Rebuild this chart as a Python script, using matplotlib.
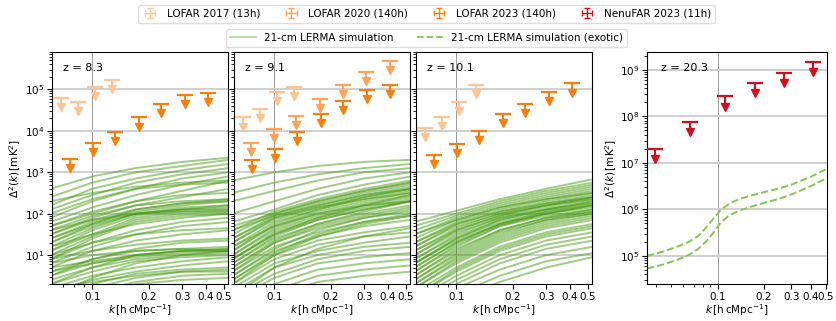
import numpy as np
import matplotlib
matplotlib.use('Agg')
import matplotlib.pyplot as plt
from matplotlib.lines import Line2D
from matplotlib.ticker import FixedLocator, NullFormatter, LogLocator

plt.rcParams['font.size'] = 7.5

# ---- upper limits (k in h/cMpc, Delta^2 in mK^2) ----
k_2017 = [0.068, 0.084, 0.103, 0.127]
k_2023 = [0.076, 0.101, 0.132, 0.176, 0.232, 0.309, 0.412]
k_2020 = [0.075, 0.100, 0.131, 0.175, 0.231, 0.307, 0.409]

lofar2017_z83 = [6.1e4, 4.9e4, 1.14e5, 1.67e5]
lofar2017_z91 = [2.1e4, 3.4e4, 8.8e4, 1.15e5]
lofar2017_z101 = [1.2e4, 2.2e4, 5.0e4, 1.3e5]
lofar2020_z91 = [5.2e3, 1.1e4, 2.3e4, 6.0e4, 1.3e5, 2.6e5, 4.8e5]
lofar2023_z83 = [2.1e3, 5.0e3, 9.6e3, 2.1e4, 4.4e4, 7.3e4, 8.4e4]
lofar2023_z91 = [2.0e3, 3.6e3, 9.3e3, 2.6e4, 5.2e4, 9.6e4, 1.3e5]
lofar2023_z101 = [2.6e3, 4.9e3, 1.0e4, 2.6e4, 4.5e4, 8.6e4, 1.4e5]

k_nenufar = [0.0396, 0.0667, 0.112, 0.175, 0.27, 0.413]
nenufar_z203 = [2.0e7, 7.7e7, 2.7e8, 5.2e8, 8.5e8, 1.46e9]

# ---- simulations: log10 Delta^2 at k_sim ----
k_sim = [0.06, 0.1, 0.17, 0.3, 0.53]
sim_z83 = [
    [2.6, 2.9, 3.1, 3.25, 3.35], [2.4, 2.75, 3.0, 3.15, 3.3],
    [2.2, 2.6, 2.85, 3.05, 3.2], [2.1, 2.45, 2.75, 2.95, 3.1],
    [1.9, 2.3, 2.6, 2.85, 3.0], [2.3, 2.5, 2.65, 2.75, 2.8],
    [1.8, 2.15, 2.45, 2.7, 2.9], [1.7, 2.0, 2.3, 2.55, 2.8],
    [1.6, 1.95, 2.2, 2.4, 2.6], [1.5, 1.85, 2.1, 2.25, 2.35],
    [1.4, 1.8, 2.05, 2.2, 2.3], [1.3, 1.7, 2.0, 2.15, 2.2],
    [1.2, 1.65, 2.0, 2.1, 2.15], [1.1, 1.5, 1.9, 2.05, 2.1],
    [1.0, 1.45, 1.85, 2.0, 2.05], [1.2, 1.5, 1.75, 1.9, 2.0],
    [1.5, 1.9, 2.2, 2.3, 2.35], [1.3, 1.75, 2.1, 2.25, 2.3],
    [0.9, 1.3, 1.6, 1.8, 1.9], [0.8, 1.2, 1.5, 1.7, 1.8],
    [1.0, 1.3, 1.5, 1.6, 1.65], [0.7, 1.1, 1.35, 1.5, 1.6],
    [0.9, 1.1, 1.25, 1.35, 1.4], [0.6, 0.9, 1.15, 1.3, 1.35],
    [0.7, 0.85, 1.0, 1.1, 1.15], [0.5, 0.8, 1.0, 1.1, 1.1],
    [0.6, 0.8, 0.95, 1.05, 1.1], [0.4, 0.7, 0.9, 1.0, 1.05],
    [0.3, 0.6, 0.85, 0.95, 1.0], [0.2, 0.5, 0.7, 0.85, 0.95],
    [0.1, 0.4, 0.6, 0.75, 0.85], [0.0, 0.3, 0.55, 0.65, 0.7],
    [-0.1, 0.2, 0.45, 0.6, 0.65], [0.2, 0.35, 0.5, 0.6, 0.6],
    [-0.2, 0.1, 0.35, 0.5, 0.55], [-0.3, 0.0, 0.3, 0.4, 0.45],
    [1.4, 1.75, 2.0, 2.1, 2.1], [1.1, 1.6, 1.95, 2.1, 2.2],
    [0.9, 1.4, 1.8, 1.95, 2.0], [1.6, 1.85, 2.0, 2.05, 2.05],
    [0.5, 0.9, 1.1, 1.15, 1.2], [0.8, 1.0, 1.1, 1.15, 1.1],
    [0.3, 0.7, 1.0, 1.1, 1.15], [1.7, 2.05, 2.3, 2.45, 2.5],
    [2.0, 2.35, 2.6, 2.7, 2.75], [0.0, 0.45, 0.8, 1.0, 1.1],
]
sim_z91 = [
    [2.8, 3.0, 3.15, 3.25, 3.3], [2.5, 2.75, 2.95, 3.1, 3.2],
    [2.3, 2.55, 2.8, 3.0, 3.1], [2.0, 2.3, 2.6, 2.85, 3.0],
    [1.8, 2.1, 2.45, 2.7, 2.9], [1.6, 2.05, 2.35, 2.6, 2.8],
    [1.5, 2.0, 2.3, 2.55, 2.75], [1.4, 1.95, 2.25, 2.5, 2.7],
    [1.3, 1.9, 2.2, 2.45, 2.65], [1.2, 1.8, 2.1, 2.35, 2.55],
    [1.1, 1.7, 2.05, 2.3, 2.5], [1.0, 1.6, 1.95, 2.2, 2.4],
    [0.9, 1.5, 1.85, 2.1, 2.3], [0.8, 1.4, 1.75, 2.0, 2.2],
    [0.7, 1.3, 1.65, 1.9, 2.05], [0.6, 1.2, 1.55, 1.8, 1.95],
    [0.5, 1.1, 1.45, 1.7, 1.85], [0.4, 1.0, 1.35, 1.55, 1.7],
    [0.3, 0.9, 1.25, 1.45, 1.55], [0.2, 0.8, 1.1, 1.3, 1.45],
    [0.1, 0.7, 1.0, 1.2, 1.3], [0.0, 0.55, 0.9, 1.1, 1.2],
    [-0.1, 0.45, 0.8, 0.95, 1.05], [-0.2, 0.3, 0.65, 0.8, 0.9],
    [-0.3, 0.15, 0.5, 0.65, 0.75], [-0.4, 0.0, 0.35, 0.5, 0.6],
    [1.6, 1.95, 2.2, 2.45, 2.6], [1.3, 1.85, 2.15, 2.4, 2.6],
    [1.0, 1.65, 2.0, 2.25, 2.45], [0.9, 1.55, 1.9, 2.15, 2.35],
    [1.2, 1.7, 2.0, 2.2, 2.3], [0.6, 1.3, 1.7, 1.95, 2.15],
    [1.1, 1.75, 2.1, 2.4, 2.6], [0.9, 1.5, 1.9, 2.2, 2.45],
    [0.7, 1.35, 1.75, 2.05, 2.3], [0.5, 1.15, 1.6, 1.9, 2.1],
    [1.4, 1.9, 2.15, 2.35, 2.5], [0.3, 1.0, 1.45, 1.75, 1.95],
    [0.8, 1.45, 1.85, 2.1, 2.3], [1.7, 2.0, 2.3, 2.55, 2.75],
    [0.0, 0.7, 1.15, 1.45, 1.65], [0.4, 1.05, 1.5, 1.8, 2.0],
]
sim_z101 = [
    [1.8, 2.07, 2.35, 2.6, 2.83], [1.7, 2.0, 2.3, 2.55, 2.75],
    [1.6, 1.95, 2.25, 2.5, 2.7], [1.5, 1.9, 2.2, 2.45, 2.65],
    [1.4, 1.85, 2.15, 2.4, 2.6], [1.3, 1.8, 2.1, 2.35, 2.55],
    [1.2, 1.75, 2.05, 2.3, 2.5], [1.1, 1.65, 2.0, 2.25, 2.45],
    [1.0, 1.6, 1.95, 2.2, 2.4], [0.9, 1.5, 1.9, 2.15, 2.35],
    [0.8, 1.4, 1.85, 2.1, 2.3], [0.7, 1.3, 1.75, 2.05, 2.25],
    [0.6, 1.2, 1.7, 2.0, 2.2], [0.5, 1.1, 1.6, 1.9, 2.1],
    [0.4, 1.0, 1.5, 1.85, 2.05], [0.3, 0.9, 1.4, 1.75, 1.95],
    [0.2, 0.8, 1.3, 1.65, 1.85], [0.1, 0.7, 1.2, 1.55, 1.75],
    [0.0, 0.6, 1.1, 1.45, 1.65], [-0.1, 0.5, 1.0, 1.35, 1.55],
    [-0.2, 0.4, 0.9, 1.25, 1.45], [-0.3, 0.3, 0.8, 1.15, 1.35],
    [-0.4, 0.2, 0.65, 1.0, 1.2], [-0.5, 0.05, 0.5, 0.85, 1.05],
    [-0.6, -0.1, 0.35, 0.7, 0.95], [1.2, 1.7, 2.0, 2.2, 2.35],
    [1.0, 1.55, 1.9, 2.1, 2.25], [0.8, 1.35, 1.75, 2.0, 2.15],
    [0.5, 1.15, 1.6, 1.9, 2.05], [0.3, 0.95, 1.45, 1.8, 2.0],
    [1.1, 1.6, 1.95, 2.2, 2.4], [0.9, 1.45, 1.85, 2.1, 2.3],
    [0.7, 1.3, 1.75, 2.0, 2.2], [0.6, 1.25, 1.7, 1.95, 2.1],
    [1.3, 1.75, 2.05, 2.25, 2.4], [0.4, 1.05, 1.55, 1.85, 2.0],
    [0.2, 0.85, 1.35, 1.7, 1.9], [1.5, 1.85, 2.15, 2.35, 2.5],
    [0.8, 1.4, 1.8, 2.05, 2.2], [0.0, 0.65, 1.15, 1.5, 1.7],
]

# exotic model at z = 20.3 (log10 Delta^2)
k_exotic = [0.035, 0.045, 0.055, 0.065, 0.075, 0.085, 0.095, 0.105, 0.12,
            0.14, 0.17, 0.2, 0.25, 0.3, 0.4, 0.5]
exotic_hi = [5.0, 5.1, 5.2, 5.3, 5.43, 5.62, 5.82, 5.99, 6.13, 6.23, 6.31, 6.37,
             6.45, 6.53, 6.7, 6.86]
exotic_lo = [4.73, 4.82, 4.92, 5.02, 5.15, 5.32, 5.52, 5.72, 5.88, 5.98, 6.07, 6.14,
             6.23, 6.32, 6.5, 6.66]

c2017 = '#fdc596'
c2020 = '#fca35c'
c2023 = '#f77f0c'
c_nenu = '#d01020'
c_sim = '#449a0e'
c_exo = '#86c553'


def upper_limits(ax, k, val, color):
    k = np.asarray(k)
    val = np.asarray(val)
    ax.vlines(k, val * 0.66, val, color=color, lw=1.5, zorder=4)
    ax.plot(k, val, ls='none', marker='_', ms=11, mew=1.6, color=color, zorder=4)
    ax.plot(k, val * 0.6, ls='none', marker='v', ms=5.5, color=color, zorder=4)


def style_axis(ax, xlim, ylim, xt):
    ax.set_xscale('log')
    ax.set_yscale('log')
    ax.set_xlim(*xlim)
    ax.set_ylim(*ylim)
    ax.xaxis.set_major_locator(FixedLocator(xt))
    ax.set_xticklabels([f'{t:g}' for t in xt])
    ax.xaxis.set_minor_locator(LogLocator(subs=np.arange(2, 10)))
    ax.xaxis.set_minor_formatter(NullFormatter())
    ax.yaxis.set_minor_locator(LogLocator(subs=np.arange(2, 10), numticks=20))
    ax.yaxis.set_minor_formatter(NullFormatter())
    ax.grid(axis='y', which='major', color='#cccccc', lw=1.3)
    ax.axvline(0.1, color='#999999', lw=0.7, zorder=0)
    ax.tick_params(axis='both', labelsize=7.5, pad=2)
    ax.set_xlabel(r'$k\,[\mathrm{h\,cMpc^{-1}}]$', fontsize=7.5, labelpad=0.5)


fig = plt.figure(figsize=(8.36, 3.21), dpi=100)
W, H = 836, 321
xticks = [0.1, 0.2, 0.3, 0.4, 0.5]

lefts = [52, 234, 416]
sims = [sim_z83, sim_z91, sim_z101]
ztxt = ['z = 8.3', 'z = 9.1', 'z = 10.1']
l2017 = [lofar2017_z83, lofar2017_z91, lofar2017_z101]
l2023 = [lofar2023_z83, lofar2023_z91, lofar2023_z101]

for i in range(3):
    ax = fig.add_axes([lefts[i] / W, 1 - 284 / H, 176 / W, 232 / H])
    style_axis(ax, (0.061, 0.525), (2, 8e5), xticks)
    for curve in sims[i]:
        ax.plot(k_sim, 10 ** np.asarray(curve), color=c_sim, lw=1.4, alpha=0.5, zorder=2)
    upper_limits(ax, k_2017, l2017[i], c2017)
    if i == 1:
        upper_limits(ax, k_2020, lofar2020_z91, c2020)
    upper_limits(ax, k_2023, l2023[i], c2023)
    ax.text(0.06, 0.93, ztxt[i], transform=ax.transAxes, fontsize=8, va='center')
    if i == 0:
        ax.set_ylabel(r'$\Delta^2(k)\,[\mathrm{mK}^2]$', fontsize=7.5, labelpad=1)
    else:
        ax.set_yticklabels([])

ax4 = fig.add_axes([647 / W, 1 - 284 / H, 180 / W, 232 / H])
style_axis(ax4, (0.035, 0.51), (2.5e4, 2.4e9), xticks)
ax4.plot(k_exotic, 10 ** np.asarray(exotic_hi), ls='--', color=c_exo, lw=1.4)
ax4.plot(k_exotic, 10 ** np.asarray(exotic_lo), ls='--', color=c_exo, lw=1.4)
upper_limits(ax4, k_nenufar, nenufar_z203, c_nenu)
ax4.text(0.08, 0.93, 'z = 20.3', transform=ax4.transAxes, fontsize=8, va='center')
ax4.set_ylabel(r'$\Delta^2(k)\,[\mathrm{mK}^2]$', fontsize=7.5, labelpad=1)

# legend proxies (errorbar-style crosses)
handles = []
for c in [c2017, c2020, c2023, c_nenu]:
    h = ax4.errorbar([np.nan], [np.nan], xerr=[1], yerr=[1], fmt='none',
                     ecolor=c, elinewidth=1.0, capsize=2.5)
    handles.append(h)
fig.legend(handles, ['LOFAR 2017 (13h)', 'LOFAR 2020 (140h)', 'LOFAR 2023 (140h)',
                     'NenuFAR 2023 (11h)'],
           loc='upper center', bbox_to_anchor=(0.51, 1.0), ncol=4, fontsize=7.5,
           handlelength=1.6, columnspacing=2.2, borderpad=0.35, framealpha=1,
           edgecolor='#dddddd')
sim_handles = [Line2D([], [], color='#b9dba2', lw=1.3),
               Line2D([], [], color=c_exo, lw=1.3, ls='--')]
fig.legend(sim_handles, ['21-cm LERMA simulation', '21-cm LERMA simulation (exotic)'],
           loc='upper center', bbox_to_anchor=(0.51, 0.925), ncol=2, fontsize=7.5,
           handlelength=2.5, columnspacing=2.2, borderpad=0.35, framealpha=1,
           edgecolor='#dddddd')

fig.savefig('out.png', dpi=100)
